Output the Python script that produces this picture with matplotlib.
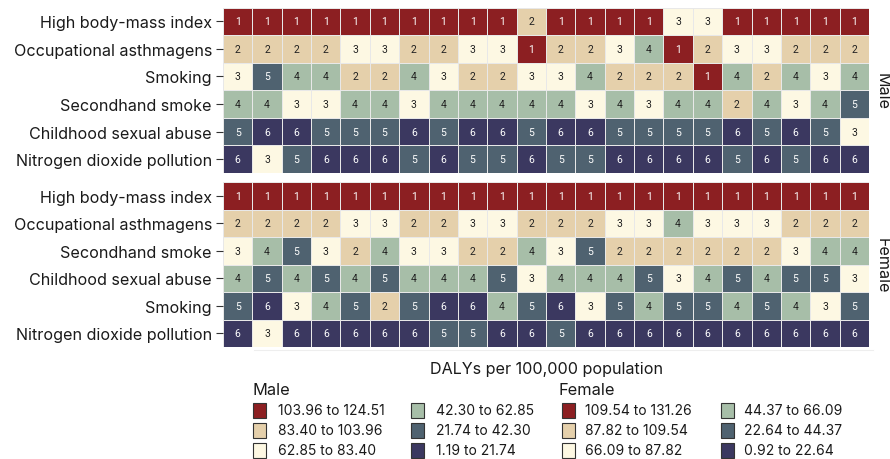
import numpy as np
import matplotlib
matplotlib.use("Agg")
import matplotlib.pyplot as plt
from matplotlib.colors import ListedColormap, BoundaryNorm
from matplotlib.patches import Rectangle

# Risk factors in display order for each sex
male_factors = ["High body-mass index", "Occupational asthmagens", "Smoking",
                "Secondhand smoke", "Childhood sexual abuse", "Nitrogen dioxide pollution"]
female_factors = ["High body-mass index", "Occupational asthmagens", "Secondhand smoke",
                  "Childhood sexual abuse", "Smoking", "Nitrogen dioxide pollution"]

# Rank of each risk factor per region (22 regions)
male_ranks = [
    [1, 1, 1, 1, 1, 1, 1, 1, 1, 1, 2, 1, 1, 1, 1, 3, 3, 1, 1, 1, 1, 1],
    [2, 2, 2, 2, 3, 3, 2, 2, 3, 3, 1, 2, 2, 3, 4, 1, 2, 3, 3, 2, 2, 2],
    [3, 5, 4, 4, 2, 2, 4, 3, 2, 2, 3, 3, 4, 2, 2, 2, 1, 4, 2, 4, 3, 4],
    [4, 4, 3, 3, 4, 4, 3, 4, 4, 4, 4, 4, 3, 4, 3, 4, 4, 2, 4, 3, 4, 5],
    [5, 6, 6, 5, 5, 5, 6, 5, 6, 6, 5, 6, 6, 5, 5, 5, 5, 6, 5, 6, 5, 3],
    [6, 3, 5, 6, 6, 6, 5, 6, 5, 5, 6, 5, 5, 6, 6, 6, 6, 5, 6, 5, 6, 6],
]
female_ranks = [
    [1, 1, 1, 1, 1, 1, 1, 1, 1, 1, 1, 1, 1, 1, 1, 1, 1, 1, 1, 1, 1, 1],
    [2, 2, 2, 2, 3, 3, 2, 2, 3, 3, 2, 2, 2, 3, 3, 4, 3, 3, 3, 2, 2, 2],
    [3, 4, 5, 3, 2, 4, 3, 3, 2, 2, 4, 3, 5, 2, 2, 2, 2, 2, 2, 3, 4, 4],
    [4, 5, 4, 5, 4, 5, 4, 4, 4, 5, 3, 4, 4, 4, 5, 3, 4, 5, 4, 5, 5, 3],
    [5, 6, 3, 4, 5, 2, 5, 6, 6, 4, 5, 6, 3, 5, 4, 5, 5, 4, 5, 4, 3, 5],
    [6, 3, 6, 6, 6, 6, 6, 5, 5, 6, 6, 5, 6, 6, 6, 6, 6, 6, 6, 6, 6, 6],
]

# DALY bins (legend labels), ordered by bin colour
male_bins = ["103.96 to 124.51", "83.40 to 103.96", "62.85 to 83.40",
             "42.30 to 62.85", "21.74 to 42.30", "1.19 to 21.74"]
female_bins = ["109.54 to 131.26", "87.82 to 109.54", "66.09 to 87.82",
               "44.37 to 66.09", "22.64 to 44.37", "0.92 to 22.64"]

palette = ["#8c1f22", "#e5d0ab", "#fdf8e3", "#a7bea8", "#4f6270", "#3b3860"]
text_colors = ["white", "#222222", "#222222", "#222222", "white", "white"]

cmap = ListedColormap(palette)
norm = BoundaryNorm(np.arange(0.5, 7.5, 1), cmap.N)

W, H = 890, 460
fig = plt.figure(figsize=(W / 100, H / 100), dpi=100)

label_font = ["Inter", "DejaVu Sans"]
cell_font = ["Roboto", "DejaVu Sans"]


def px_axes(x0, y0, x1, y1):
    return fig.add_axes([x0 / W, 1 - y1 / H, (x1 - x0) / W, (y1 - y0) / H])


def draw_panel(ax, ranks, factors, side_label):
    data = np.array(ranks)
    nrow, ncol = data.shape
    ax.pcolormesh(np.arange(ncol + 1), np.arange(nrow + 1), data, cmap=cmap, norm=norm,
                  edgecolors="#e8e8e8", linewidth=0.7)
    for i in range(nrow):
        for j in range(ncol):
            v = data[i, j]
            ax.text(j + 0.5, i + 0.5, str(v), ha="center", va="center",
                    fontsize=7.5, color=text_colors[v - 1], family=cell_font)
    ax.set_xlim(0, ncol)
    ax.set_ylim(nrow, 0)
    ax.set_xticks([])
    ax.set_yticks(np.arange(nrow) + 0.5)
    ax.set_yticklabels(factors, fontsize=11.6, family=label_font, color="#1a1a1a")
    ax.tick_params(axis="y", length=5, width=0.8, pad=3, color="#333333")
    for s in ax.spines.values():
        s.set_visible(False)
    ax.text(1.008, 0.5, side_label, transform=ax.transAxes, rotation=-90,
            ha="left", va="center", fontsize=11.6, family=label_font, color="#1a1a1a")


ax_top = px_axes(223, 8.5, 869, 174)
draw_panel(ax_top, male_ranks, male_factors, "Male")
ax_bot = px_axes(223, 183, 869, 348)
draw_panel(ax_bot, female_ranks, female_factors, "Female")

# faint base line under the lower panel
fig.add_artist(plt.Line2D([254 / W, 873 / W], [1 - 351 / H, 1 - 351 / H],
                          color="#eeeeee", linewidth=0.8))

# Legend
fig.text(546.5 / W, 1 - 370 / H, "DALYs per 100,000 population", ha="center", va="center",
         fontsize=11.6, family=label_font, color="#1a1a1a")


def legend_block(x_title, x_cols, gap, title, bins):
    fig.text(x_title / W, 1 - 391 / H, title, ha="left", va="center",
             fontsize=11.8, family=label_font, color="#1a1a1a")
    for k, lab in enumerate(bins):
        col, row = divmod(k, 3)
        xs = x_cols[col]
        yc = 411.5 + row * 20
        fig.add_artist(Rectangle((xs / W, 1 - (yc + 7.5) / H), 13 / W, 15 / H,
                                 facecolor=palette[k], edgecolor="#333333", linewidth=0.8,
                                 transform=fig.transFigure))
        fig.text((xs + gap) / W, 1 - yc / H, lab, ha="left", va="center",
                 fontsize=10, family=label_font, color="#1a1a1a")


legend_block(253, [253, 411], 25, "Male", male_bins)
legend_block(559, [562, 721], 23, "Female", female_bins)

fig.savefig("out.png", dpi=100)
